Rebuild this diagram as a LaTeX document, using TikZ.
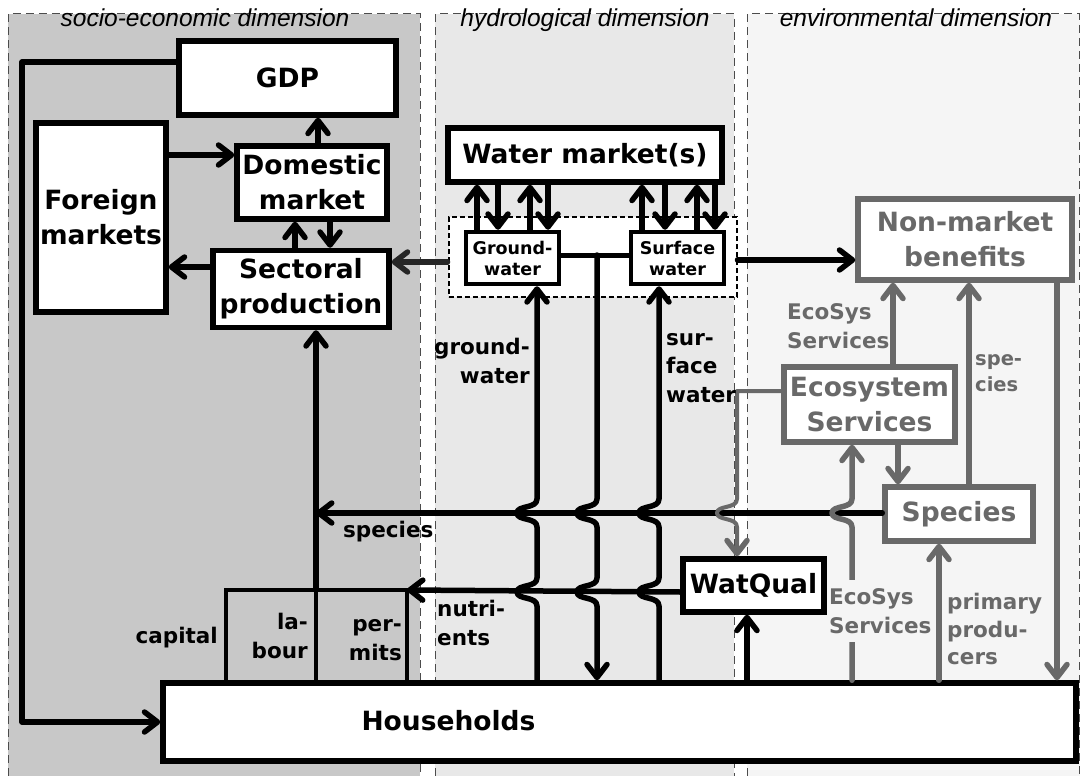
\documentclass[tikz,border=0pt]{standalone}
\usepackage{fontspec}
\newfontfamily\dvs{DejaVu Sans}
\newfontfamily\lsi{Liberation Sans}
\usetikzlibrary{arrows.meta}
\definecolor{sebg}{HTML}{C8C8C8}
\definecolor{hybg}{HTML}{E8E8E8}
\definecolor{envbg}{HTML}{F5F5F5}
\definecolor{eg}{HTML}{696969}
\newcommand{\jup}[2]{-- (#1,#2+14) .. controls (#1,#2+4) and (#1-20,#2+8) .. (#1-20,#2) .. controls (#1-20,#2-8) and (#1,#2-4) .. (#1,#2-14)}
\newcommand{\jdn}[2]{-- (#1,#2-14) .. controls (#1,#2-4) and (#1-20,#2-8) .. (#1-20,#2) .. controls (#1-20,#2+8) and (#1,#2+4) .. (#1,#2+14)}
\begin{document}
\begin{tikzpicture}[x=1pt,y=-1pt,
 bbox/.style={draw=black, fill=white, line width=5.5pt, inner sep=0pt, align=center, font=\dvs\bfseries\fontsize{26.5}{35}\selectfont},
 gbox/.style={bbox, draw=eg, text=eg},
 sbox/.style={bbox, line width=4.5pt, font=\dvs\bfseries\fontsize{17.5}{21}\selectfont},
 lab/.style={inner sep=0pt, font=\dvs\bfseries\fontsize{21.5}{28.5}\selectfont},
 glab/.style={lab, text=eg},
 ttl/.style={inner sep=0pt, font=\lsi\itshape\fontsize{24.5}{28}\selectfont},
 arr/.style={line width=5.5pt, line cap=round, line join=round, -{Straight Barb[length=13pt,width=20pt,line width=5.5pt,round]}},
 garr/.style={arr, draw=eg},
 ln/.style={line width=5pt, line cap=round, line join=round},
 pan/.style={draw=black!70, line width=1pt, dash pattern=on 8pt off 5pt}
]
\useasboundingbox (0,0) rectangle (1080,776);
% panels
\fill[sebg] (8,14) rectangle (420,776);
\fill[hybg] (435,14) rectangle (734,776);
\fill[envbg] (747,14) rectangle (1080,776);
\draw[pan] (8,776) -- (8,14) -- (420,14) -- (420,776);
\draw[pan] (435,776) -- (435,14) -- (734,14) -- (734,776);
\draw[pan] (747,776) -- (747,14) -- (1079,14) -- (1079,776);
\node[ttl, anchor=base] (t1) at (205,27) {socio-economic dimension};
\node[ttl, anchor=base] (t2) at (585,27) {hydrological dimension};
\node[ttl, anchor=base] (t3) at (916,27) {environmental dimension};

% boxes
\node[bbox, minimum width=217, minimum height=74] (gdp) at (287.5,78) {GDP};
\node[bbox, minimum width=130, minimum height=189] (for) at (101,217.5) {Foreign\\markets};
\node[bbox, minimum width=150, minimum height=73] (dom) at (312,182.5) {Domestic\\market};
\node[bbox, minimum width=176, minimum height=77] (sec) at (301,289) {Sectoral\\production};
\node[bbox, minimum width=274, minimum height=54] (wm) at (585,155) {Water market(s)};
\node[draw, fill=white, line width=2pt, dash pattern=on 5pt off 3pt, minimum width=288, minimum height=80, inner sep=0pt] (hreg) at (592.5,257) {};
\node[sbox, minimum width=93, minimum height=52] (gw) at (512.5,258) {Ground-\\water};
\node[sbox, minimum width=93, minimum height=52] (sw) at (677.5,258) {Surface\\water};
\node[gbox, minimum width=214, minimum height=81] (nmb) at (965,239.5) {Non-market\\benefits};
\node[gbox, minimum width=171, minimum height=75] (eco) at (869.5,404.5) {Ecosystem\\Services};
\node[gbox, minimum width=148, minimum height=54] (spc) at (959,514) {Species};
\node[bbox, minimum width=141, minimum height=53] (wq) at (753.5,585.5) {WatQual};
\node[bbox, minimum width=913, minimum height=78] (hh) at (619.5,722) {};
\node[anchor=base, inner sep=0pt, font=\dvs\bfseries\fontsize{26.5}{35}\selectfont] (hht) at (448.5,730) {Households};

% capital / labour / permits
\coordinate (labtop) at (316,590);
\coordinate (permtop) at (407,590);
\draw[line width=3.5pt] (226,0 |- hh.north) -- (226,590) -- (permtop) -- (407,0 |- hh.north);
\draw[line width=3.5pt] (labtop) -- (316,0 |- hh.north);
\draw[arr] (labtop) -- (316,0 |- sec.south);

% socio-economic connectors
\draw[arr] (gdp.west |- 0,62) -- (22,62) -- (22,0 |- hh.west) -- (hh.west);
\draw[arr] (318,0 |- dom.north) -- (318,0 |- gdp.south);
\draw[arr] (for.east |- 0,155) -- (dom.west |- 0,155);
\draw[arr] (sec.west |- 0,267) -- (for.east |- 0,267);
\draw[arr] (295,0 |- sec.north) -- (295,0 |- dom.south);
\draw[arr] (330,0 |- dom.south) -- (330,0 |- sec.north);
\draw[arr, draw=black!85] (hreg.west |- 0,262) -- (sec.east |- 0,262);
\draw[arr] (hreg.east |- 0,260) -- (nmb.west |- 0,260);

% water market arrows
\foreach \x in {477,530} \draw[arr] (\x,0 |- gw.north) -- (\x,0 |- wm.south);
\foreach \x in {498,548} \draw[arr] (\x,0 |- wm.south) -- (\x,0 |- gw.north);
\foreach \x in {642,697} \draw[arr] (\x,0 |- sw.north) -- (\x,0 |- wm.south);
\foreach \x in {665,715} \draw[arr] (\x,0 |- wm.south) -- (\x,0 |- sw.north);

% species and nutrients lines
\draw[arr] (spc.west |- 0,513) -- (labtop |- 0,513);
\draw[arr] (wq.west |- 0,592) -- (permtop);
\draw[arr] (747,0 |- hh.north) -- (747,0 |- wq.south);

% hydrological verticals
\coordinate (junc) at (597,255);
\draw[ln] (gw.east |- junc) -- (sw.west |- junc);
\draw[arr] (junc) \jdn{597}{513} \jdn{597}{592} -- (597,0 |- hh.north);
\draw[arr] (537,0 |- hh.north) \jup{537}{592} \jup{537}{513} -- (537,0 |- gw.south);
\draw[arr] (659,0 |- hh.north) \jup{659}{592} \jup{659}{513} -- (659,0 |- sw.south);

% environmental connectors
\draw[garr, line width=4pt] (eco.west |- 0,391) -- (737,391) \jdn{737}{513} -- (737,0 |- wq.north);
\draw[garr] (893,0 |- eco.north) -- (893,0 |- nmb.south);
\draw[garr] (969,0 |- spc.north) -- (969,0 |- nmb.south);
\draw[garr] (1057,0 |- nmb.south) -- (1057,0 |- hh.north);
\draw[garr] (898,0 |- eco.south) -- (898,0 |- spc.north);
\draw[garr] (852,0 |- hh.north) \jup{852}{513} -- (852,0 |- eco.south);
\draw[garr] (939,0 |- hh.north) -- (939,0 |- spc.south);

% labels
\node[lab, anchor=east, align=right] (lgw) at (530,361) {ground-\\water};
\node[lab, anchor=west, align=left] (lsw) at (666,368) {sur-\\face\\water};
\node[glab, anchor=west, align=left] (les1) at (787,326) {EcoSys\\Services};
\node[glab, anchor=west, align=left, font=\dvs\bfseries\fontsize{19.5}{26}\selectfont] (lsp) at (975,373) {spe-\\cies};
\node[lab, anchor=base west] (lspc) at (343,537) {species};
\node[lab, anchor=west, align=left] (lnu) at (437,623) {nutri-\\ents};
\node[lab, anchor=base east] (lcap) at (218,643) {capital};
\node[lab, anchor=east, align=right] (llab) at (308,636) {la-\\bour};
\node[lab, anchor=east, align=right] (lper) at (402,640) {per-\\mits};
\node[glab, anchor=west, align=left, fill=envbg, inner ysep=9pt] (les2) at (829,611) {EcoSys\\Services};
\node[glab, anchor=west, align=left, font=\dvs\bfseries\fontsize{21.5}{27.5}\selectfont] (lpp) at (947,629.4) {primary\\produ-\\cers};
\end{tikzpicture}
\end{document}
